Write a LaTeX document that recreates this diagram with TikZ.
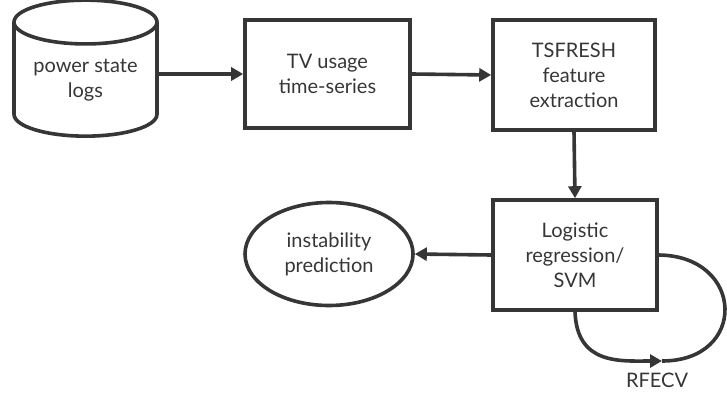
\documentclass[tikz,border=0pt]{standalone}
\usepackage{fontspec}
\setmainfont{Lato}
\usepackage{tikz}
\usetikzlibrary{shapes.geometric,arrows.meta}
\definecolor{ink}{HTML}{363636}

\begin{document}
\begin{tikzpicture}[x=1pt, y=1pt, align=center, font=\fontsize{20}{25}\selectfont,
    every node/.style={text=ink, inner sep=0pt},
    proc/.style={draw=ink, line width=3.6pt, rectangle},
    flow/.style={draw=ink, line width=3.6pt, -{Triangle[length=12pt, width=13pt]}}]
    \useasboundingbox (0,0) rectangle (727,-396);
    \node [draw=ink, line width=3.6pt, cylinder, shape border rotate=90, aspect=0.42,
        minimum width=143pt, minimum height=136pt] (logs) at (85.5,-80) {power state\\logs};
    \node [proc, minimum width=165pt, minimum height=108pt] (tvuse) at (327.5,-74) {TV usage\\time-series};
    \node [proc, minimum width=162pt, minimum height=110pt] (tsfresh) at (574,-75) {TSFRESH\\feature\\extraction};
    \node [proc, minimum width=164pt, minimum height=110pt] (logit) at (575,-255) {Logistic\\regression/\\SVM};
    \node [draw=ink, line width=3.6pt, ellipse, minimum width=168pt, minimum height=103pt] (predict) at (329,-254) {instability\\prediction};
    \node (rfecv) at (657,-380) {RFECV};
    \coordinate (loopmid) at (662,-361);
    \draw [flow] (logs.east |- tvuse.west) -- (tvuse.west);
    \draw [flow] (tvuse.east) -- (tsfresh.west);
    \draw [flow] (tsfresh.south) -- (logit.north);
    \draw [flow] (logit.west) -- (predict.east);
    \draw [flow] (logit.south) .. controls (577,-365) and (620,-361) .. (loopmid);
    \draw [draw=ink, line width=3.6pt] (loopmid) .. controls (748,-361) and (745,-256) .. (logit.east);
\end{tikzpicture}
\end{document}
